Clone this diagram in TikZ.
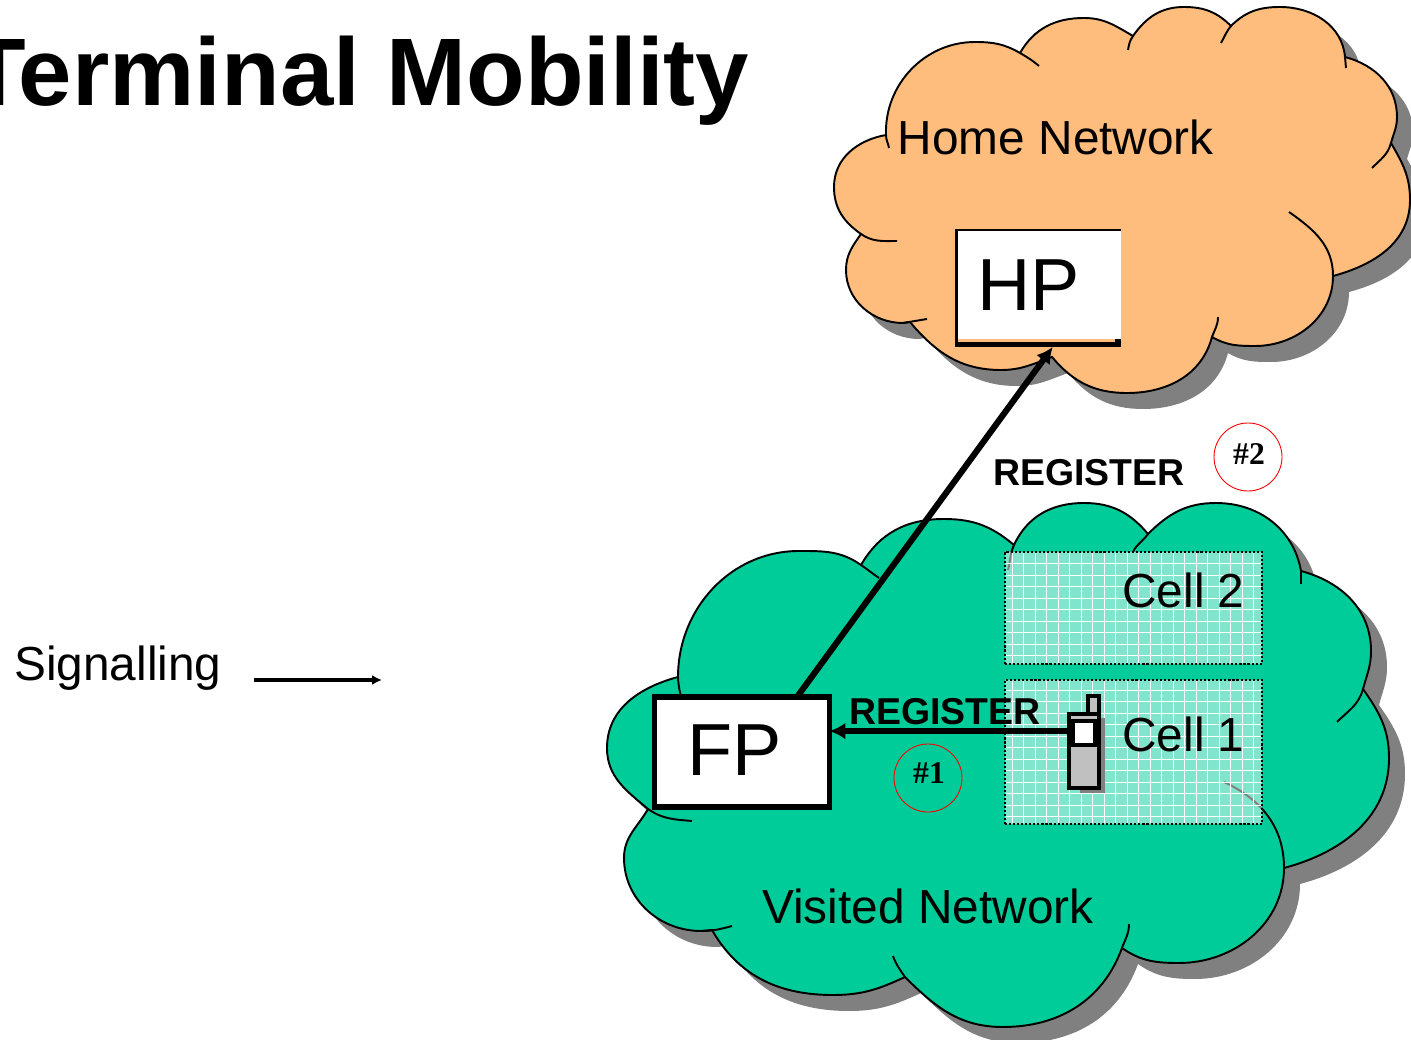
\documentclass[tikz,border=0pt]{standalone}
\usepackage{fontspec}
\setmainfont{Liberation Sans}
\newfontfamily\hashfont{Liberation Serif}
\usetikzlibrary{arrows.meta}

\definecolor{homeorange}{RGB}{255,189,125}
\definecolor{visitgreen}{RGB}{0,204,153}
\definecolor{shadowgray}{RGB}{128,128,128}
\definecolor{phonegray}{RGB}{192,192,192}

\tikzset{
    outline/.style={draw=black, line width=1.1pt},
    label/.style={font=\fontsize{27.2}{30}\selectfont, inner sep=0pt, anchor=base west},
    boxtext/.style={font=\fontsize{42}{44}\selectfont, inner sep=0pt, anchor=base west},
    regtext/.style={font=\fontsize{21.3}{24}\selectfont\bfseries, inner sep=0pt},
    hashtext/.style={font=\fontsize{18}{20}\selectfont\bfseries\hashfont, inner sep=0pt},
    markcircle/.style={circle, draw=red, line width=0.5pt, minimum size=1.36cm, inner sep=0pt},
    cellbox/.style={draw=black, line width=1.3pt, dash pattern=on 1.2pt off 1.1pt, fill=white, fill opacity=0.5, minimum width=5.14cm, inner sep=0pt, outer sep=0pt},
    cellgrid/.style={white, line width=0.25pt, xstep=0.23cm, ystep=0.23cm},
    sigline/.style={line width=3.5pt, -{Latex[length=3.2mm,width=3.4mm]}}
}

\def\homecloud{(886,135) to[out=92,in=180] (975,42) to[out=0,in=150] (1020,53)
    to[out=60,in=180] (1084,18) to[out=0,in=150] (1133,36)
    to[out=55,in=180] (1184,7) to[out=0,in=135] (1231,26)
    to[out=45,in=180] (1280,7) to[out=0,in=95] (1345,57)
    to[out=-15,in=90] (1397,117) to[out=-90,in=75] (1391,143)
    to[out=-60,in=90] (1410,200) to[out=-90,in=15] (1333,276)
    to[out=-90,in=0] (1255,346) to[out=180,in=-30] (1212,337)
    to[out=-105,in=0] (1127,393) to[out=180,in=-50] (1052,357)
    to[out=-160,in=0] (1001,370) to[out=180,in=-50] (910,322)
    -- (903,323) to[out=180,in=-90] (846,270) to[out=90,in=-125] (861,234)
    to[out=145,in=-90] (834,187) to[out=90,in=190] (886,135) -- cycle}

\def\visitcloud{(678,677) to[out=90,in=180] (799,551) to[out=0,in=145] (861,565)
    to[out=60,in=180] (944,519) to[out=0,in=140] (1014,545)
    to[out=65,in=180] (1084,503) to[out=0,in=130] (1148,534)
    to[out=45,in=180] (1216,503) to[out=0,in=100] (1301,571)
    to[out=-15,in=90] (1371,651) to[out=-90,in=75] (1363,689)
    to[out=-55,in=90] (1389,758) to[out=-90,in=15] (1284,868)
    to[out=-90,in=0] (1179,963) to[out=180,in=-35] (1122,948)
    to[out=-110,in=0] (1003,1027) to[out=180,in=-45] (905,977)
    to[out=-155,in=0] (833,995) to[out=180,in=-60] (712,930)
    -- (701,931) to[out=180,in=-90] (624,858) to[out=90,in=-120] (648,809)
    to[out=140,in=-90] (607,748) to[out=90,in=195] (678,677) -- cycle}

\begin{document}
\begin{tikzpicture}[x=0.02cm, y=-0.02cm]
    \useasboundingbox (0,0) rectangle (1411,1040);

    % home network
    \fill[shadowgray, shift={(16,16)}] \homecloud;
    \path[outline, fill=homeorange] \homecloud;
    \draw[outline] (1020,53) to[out=-30,in=140] (1039,66);
    \draw[outline] (1128,50) to[out=80,in=-125] (1133,36);
    \draw[outline] (1221,43) to[out=60,in=-130] (1231,26);
    \draw[outline] (1345,57) -- (1346,68);
    \draw[outline] (1391,143) to[out=-105,in=45] (1372,168);
    \draw[outline] (1289,212) to[out=-35,in=90] (1333,276);
    \draw[outline] (1218,317) to[out=-90,in=70] (1212,337);
    \draw[outline] (927,319) -- (903,323);
    \draw[outline] (897,241) to[out=180,in=-35] (861,234);
    \draw[outline] (889,148) to[out=100,in=-90] (886,135);

    % visited network
    \fill[shadowgray, shift={(16,16)}] \visitcloud;
    \path[outline, fill=visitgreen] \visitcloud;
    \draw[outline] (682,695) to[out=-95,in=-90] (678,677);
    \draw[outline] (861,565) to[out=-35,in=145] (879,578);
    \draw[outline] (1008,570) to[out=75,in=-115] (1014,545);
    \draw[outline] (1133,552) to[out=65,in=-125] (1148,534);
    \draw[outline] (1301,571) -- (1301,584);
    \draw[outline] (1363,689) to[out=-105,in=45] (1337,722);
    \draw[outline] (1224,782) to[out=-25,in=90] (1284,868);
    \draw[outline] (1129,924) to[out=-90,in=70] (1122,948);
    \draw[outline] (893,956) to[out=-70,in=125] (905,977);
    \draw[outline] (732,926) to[out=-165,in=0] (701,931);
    \draw[outline] (692,821) to[out=175,in=-35] (648,809);

    % cells
    \node[cellbox, minimum height=2.24cm] (celltwo) at (1133.5,608) {};
    \node[cellbox, minimum height=2.88cm] (cellone) at (1133.5,752) {};
    \draw[cellgrid] (1006,553) grid (1261,663);
    \draw[cellgrid] (1006,681) grid (1261,823);
    \node[label] (celltwotext) at (1122,608) {Cell 2};
    \node[label] (cellonetext) at (1122,751) {Cell 1};

    % home proxy box, its edges are uneven
    \fill[black] (955,229) rectangle (1121,347);
    \fill[white] (958,231) rectangle (1121,339);
    \fill[homeorange] (958,339) rectangle (1115,342);
    \node[minimum width=3.32cm, minimum height=2.36cm, inner sep=0pt, outer sep=0pt] (hp) at (1038,288) {};
    \node[boxtext] (hptext) at (977,311) {HP};

    % foreign proxy box
    \node[draw=black, line width=3.2pt, fill=white, minimum width=3.5cm, minimum height=2.2cm, inner sep=0pt, outer sep=0pt] (fp) at (742,752) {};
    \node[boxtext] (fptext) at (687,775) {FP};

    % phone
    \fill[shadowgray] (1080,718) rectangle (1105,793);
    \node[draw=black, line width=2.2pt, fill=phonegray, minimum width=0.22cm, minimum height=0.36cm, inner sep=0pt, outer sep=0pt] (antenna) at (1093.5,705) {};
    \node[draw=black, line width=2.6pt, fill=phonegray, minimum width=0.6cm, minimum height=1.48cm, inner sep=0pt, outer sep=0pt] (phone) at (1084,751) {};
    \node[draw=black, line width=2pt, fill=white, minimum width=0.44cm, minimum height=0.48cm, inner sep=0pt, outer sep=0pt] (screen) at (1084,733) {};

    % signalling paths
    \draw[sigline] (fp.45) -- (hp.-76);
    \draw[sigline] (phone.127) -- (fp.east |- phone.127);

    % labels
    \node[regtext] (regtwo) at (1089,473) {REGISTER};
    \node[regtext] (regone) at (945,712) {REGISTER};
    \node[markcircle] (marktwo) at (1248,457) {};
    \node[hashtext] (marktwotext) at (1249,454) {\#2};
    \node[markcircle] (markone) at (928,778) {};
    \node[hashtext] (markonetext) at (929,773) {\#1};
    \node[label] (hometext) at (897.5,155) {Home Network};
    \node[label] (visittext) at (762,923) {Visited Network};

    % title and legend
    \node[font=\fontsize{54.6}{58}\selectfont\bfseries, inner sep=0pt, anchor=base west] (title) at (-33,106) {Terminal Mobility};
    \node[label] (legend) at (14,681) {Signalling};
    \coordinate (legendfrom) at (254,680);
    \coordinate (legendto) at (382,680);
    \draw[line width=2.2pt, -{Latex[length=2mm,width=2mm]}] (legendfrom) -- (legendto);
\end{tikzpicture}
\end{document}
